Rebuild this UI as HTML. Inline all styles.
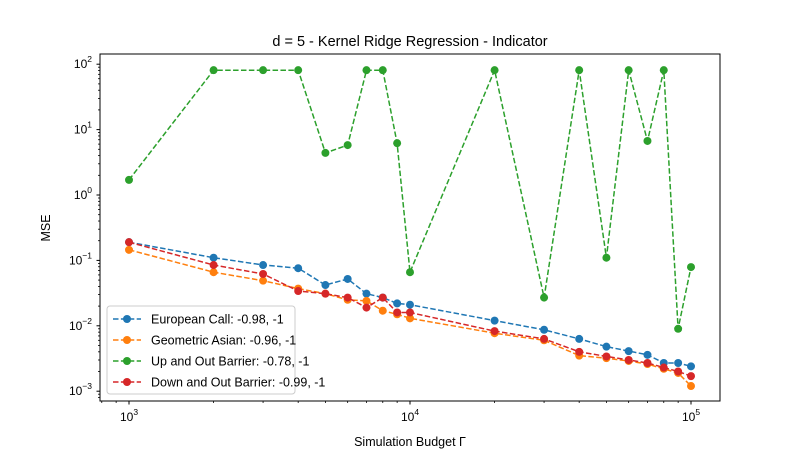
<!DOCTYPE html>
<html><head><meta charset="utf-8"><style>
body{margin:0;background:#fff;}
svg{display:block;font-family:"Liberation Sans","DejaVu Sans",sans-serif;}
</style></head><body>
<svg id="chart" width="800" height="450">
<rect width="800" height="450" fill="#fff"/>
<g id="minor"></g>
<g id="ticks"></g>
<g id="series"></g>
<rect x="100" y="54" width="620" height="347" fill="none" stroke="#000" stroke-width="1"/>
<text x="410" y="46" text-anchor="middle" font-size="14.5">d = 5 - Kernel Ridge Regression - Indicator</text>
<text x="410" y="446" text-anchor="middle" font-size="12.5">Simulation Budget Γ</text>
<text x="50" y="228" text-anchor="middle" font-size="12.5" transform="rotate(-90 50 228)">MSE</text>
<g id="legend"></g>
</svg>
<script>
const budgets=[1000,2000,3000,4000,5000,6000,7000,8000,9000,10000,20000,30000,40000,50000,60000,70000,80000,90000,100000];
const european=[0.19,0.11,0.085,0.076,0.042,0.052,0.031,0.027,0.022,0.021,0.012,0.0087,0.0063,0.0048,0.0041,0.0036,0.0027,0.0027,0.0024];
const asian=[0.145,0.066,0.049,0.037,0.031,0.025,0.024,0.017,0.015,0.013,0.0077,0.006,0.0035,0.0032,0.0029,0.0026,0.0022,0.0019,0.0012];
const upout=[1.7,81,81,81,4.4,5.8,81,81,6.2,0.066,81,0.027,81,0.11,81,6.7,81,0.009,0.079];
const downout=[0.19,0.085,0.062,0.034,0.031,0.027,0.019,0.027,0.016,0.016,0.0083,0.0063,0.004,0.0034,0.003,0.0027,0.0023,0.002,0.0017];
const seriesNames=["European Call: -0.98, -1","Geometric Asian: -0.96, -1","Up and Out Barrier: -0.78, -1","Down and Out Barrier: -0.99, -1"];
const xTickVals=[3,4,5];
const yTickVals=[-3,-2,-1,0,1,2];
const NS="http://www.w3.org/2000/svg";
function X(v){return 129+(Math.log10(v)-3)*281;}
function Y(v){return 195-Math.log10(v)*65.4;}
function mk(t,a,p){const e=document.createElementNS(NS,t);for(const k in a)e.setAttribute(k,a[k]);p.appendChild(e);return e;}
const tk=document.getElementById('ticks'),mn=document.getElementById('minor');
xTickVals.forEach(p=>{const x=X(Math.pow(10,p));
 const l=mk('line',{x1:x,x2:x,y1:401,y2:404.5,stroke:'#000'},tk);
 
 
 const t=mk('text',{x:x,y:421,'text-anchor':'middle','font-size':'12'},tk);
 
 
 t.innerHTML='10<tspan dy="-6" font-size="8.5">'+p+'</tspan>';});
for(let d=2;d<5;d++)for(let m=2;m<10;m++){const v=m*Math.pow(10,d);const x=X(v);if(x<100||x>720)continue;
 const l=mk('line',{x1:x,x2:x,y1:401,y2:403,stroke:'#000','stroke-width':0.8},mn);
 
 }
yTickVals.forEach(p=>{const y=Y(Math.pow(10,p));
 const l=mk('line',{x1:96.5,x2:100,y1:y,y2:y,stroke:'#000'},tk);
 
 
 const t=mk('text',{x:92,y:y+4,'text-anchor':'end','font-size':'12'},tk);
 
 
 const s=p<0?'−'+(-p):''+p;
 t.innerHTML='10<tspan dy="-6" font-size="8.5">'+s+'</tspan>';});
for(let d=-4;d<3;d++)for(let m=2;m<10;m++){const y=Y(m*Math.pow(10,d));if(y<54||y>401)continue;
 const l=mk('line',{x1:98,x2:100,y1:y,y2:y,stroke:'#000','stroke-width':0.8},mn);
 
 }
const colors=['#1f77b4','#ff7f0e','#2ca02c','#d62728'];
const all=[european,asian,upout,downout];
const sg=document.getElementById('series');
all.forEach((vals,i)=>{const g=mk('g',{},sg);
 
 
 const pts=budgets.map((b,j)=>X(b).toFixed(1)+','+Y(vals[j]).toFixed(1)).join(' ');
 const pl=mk('polyline',{points:pts,fill:'none',stroke:colors[i],'stroke-width':1.5,'stroke-dasharray':'5.5,2.4'},g);
 
 
 budgets.forEach((b,j)=>{const c=mk('circle',{cx:X(b),cy:Y(vals[j]),r:4,fill:colors[i]},g);
  
  });});
const lg=document.getElementById('legend');
const box=mk('rect',{x:107,y:306,width:188,height:88,rx:3,fill:'#fff','fill-opacity':0.8,stroke:'#ccc'},lg);


seriesNames.forEach((n,i)=>{const y=319+i*21;const g=mk('g',{},lg);
 
 
 mk('line',{x1:113,x2:141,y1:y,y2:y,stroke:colors[i],'stroke-width':1.5,'stroke-dasharray':'5.5,2.4'},g);
 mk('circle',{cx:127,cy:y,r:4,fill:colors[i]},g);
 const t=mk('text',{x:151,y:y+4.5,'font-size':'12.5'},g);t.textContent=n;});
</script>
</body></html>
